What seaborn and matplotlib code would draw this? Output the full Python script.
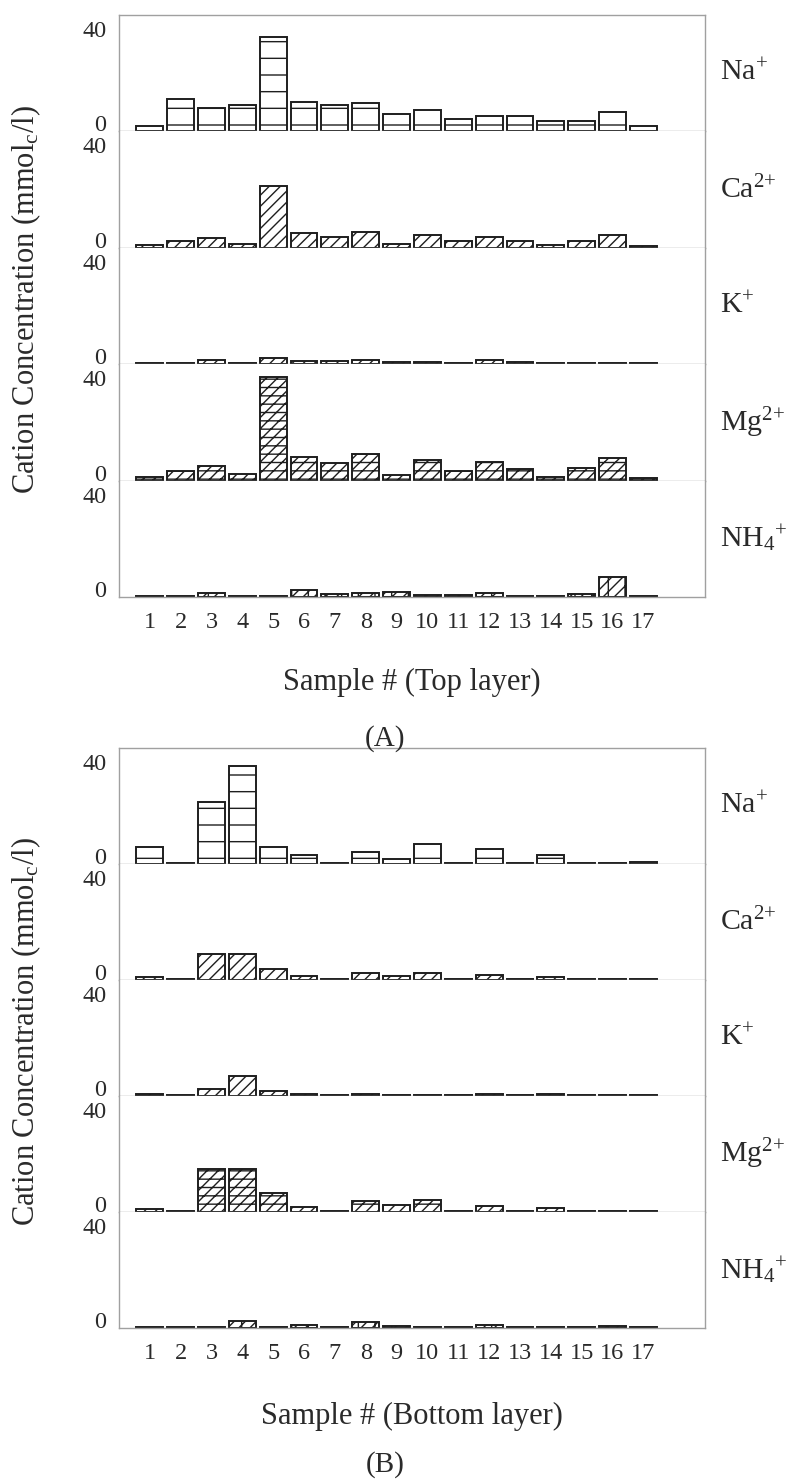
import numpy as np
import pandas as pd
import matplotlib
matplotlib.use("Agg")
import matplotlib.pyplot as plt
import seaborn as sns

# ---------------- data ----------------
samples = [str(i) for i in range(1, 18)]
ion_names = ["Na", "Ca", "K", "Mg", "NH4"]
ion_labels = [r"Na$^{+}$", r"Ca$^{2{+}}$", r"K$^{+}$", r"Mg$^{2{+}}$", r"NH$_{4}{}^{+}$"]
ion_hatches = ["-", "///", "///", "///--", "///|"]

# Top layer (A)
top_na  = [2.0, 12.8, 9.2, 10.5, 37.0, 11.4, 10.2, 11.1, 6.8, 8.3, 4.7, 6.2, 6.2, 3.9, 3.9, 7.5, 2.2]
top_ca  = [0.9, 2.5, 3.7, 1.6, 24.0, 5.7, 4.2, 6.1, 1.3, 4.9, 2.5, 4.3, 2.5, 0.9, 2.5, 4.9, 0.6]
top_k   = [0.5, 0.5, 1.5, 0.4, 2.5, 1.3, 1.3, 1.5, 0.9, 0.9, 0.4, 1.5, 0.9, 0.4, 0.6, 0.6, 0.3]
top_mg  = [1.3, 3.7, 5.7, 2.6, 40.4, 9.3, 7.0, 10.3, 2.0, 7.9, 3.9, 7.2, 4.6, 1.4, 5.0, 8.7, 1.0]
top_nh4 = [0.2, 0.2, 1.5, 0.2, 0.2, 2.6, 1.3, 1.5, 1.9, 0.9, 0.6, 1.7, 0.2, 0.2, 1.0, 7.7, 0.2]

# Bottom layer (B)
bot_na  = [6.5, 0.3, 24.3, 38.3, 6.5, 3.5, 0.3, 4.7, 1.9, 7.7, 0.3, 5.8, 0.3, 3.5, 0.3, 0.4, 0.9]
bot_ca  = [1.1, 0.3, 10.1, 10.1, 4.4, 1.5, 0.3, 2.8, 1.6, 2.8, 0.3, 1.8, 0.4, 1.1, 0.3, 0.3, 0.4]
bot_k   = [0.8, 0.3, 2.8, 7.7, 1.8, 0.8, 0.2, 0.8, 0.5, 0.5, 0.3, 0.9, 0.3, 0.9, 0.3, 0.3, 0.3]
bot_mg  = [1.3, 0.3, 16.8, 16.8, 7.5, 1.9, 0.3, 4.5, 2.6, 4.7, 0.3, 2.5, 0.3, 1.5, 0.3, 0.3, 0.3]
bot_nh4 = [0.2, 0.2, 0.2, 2.8, 0.2, 1.3, 0.2, 2.3, 0.6, 0.2, 0.2, 1.3, 0.3, 0.3, 0.3, 0.6, 0.3]

top_layer = [top_na, top_ca, top_k, top_mg, top_nh4]
bot_layer = [bot_na, bot_ca, bot_k, bot_mg, bot_nh4]

y_ticks = [0, 40]
x_labels = ["Sample # (Top layer)", "Sample # (Bottom layer)"]
panel_tags = ["(A)", "(B)"]
y_label = r"Cation Concentration (mmol$_{\mathrm{c}}$/l)"

# ---------------- style ----------------
sns.set_theme(style="white")
plt.rcParams["font.family"] = ["Liberation Serif", "DejaVu Serif"]
plt.rcParams["mathtext.fontset"] = "custom"
plt.rcParams["mathtext.rm"] = "Liberation Serif"
plt.rcParams["mathtext.it"] = "Liberation Serif:italic"
plt.rcParams["mathtext.bf"] = "Liberation Serif:bold"
plt.rcParams["hatch.linewidth"] = 1.0
plt.rcParams["hatch.color"] = "#1e1e1e"

W, H = 790, 1482
fig = plt.figure(figsize=(W / 100, H / 100), dpi=100)

spine_col = "#a0a0a0"
text_col = "#2a2a2a"
left_px, right_px = 119, 705
panels = [(15, 597), (748, 1328)]
xlabel_y = [682, 1416]
tag_y = [739, 1465]

for pi, (layer, (ptop, pbot)) in enumerate(zip([top_layer, bot_layer], panels)):
    gs = fig.add_gridspec(5, 1, left=left_px / W, right=right_px / W,
                          top=1 - ptop / H, bottom=1 - pbot / H, hspace=0)
    for ii in range(5):
        ax = fig.add_subplot(gs[ii, 0])
        df = pd.DataFrame({"sample": samples, "value": layer[ii]})
        sns.barplot(data=df, x="sample", y="value", order=samples, ax=ax,
                    color="white", edgecolor="#1e1e1e", linewidth=1.4,
                    width=0.87, errorbar=None, saturation=1)
        for p in ax.patches:
            p.set_hatch(ion_hatches[ii])
            p.set_facecolor("white")
        ax.set_xlim(-1, 18)
        ax.set_ylim(0, 45.5)
        ax.set_yticks(y_ticks)
        ax.set_ylabel("")
        ax.set_xlabel("")
        for s in ["left", "right", "bottom", "top"]:
            ax.spines[s].set_color(spine_col)
            ax.spines[s].set_linewidth(1.0)
        ax.spines["top"].set_visible(ii == 0)
        ax.tick_params(axis="y", direction="in", length=4, width=0.8,
                       color=spine_col, labelsize=17.5, labelcolor=text_col, pad=9)
        # the "0" label sits just above the zero line
        ax.yaxis.get_major_ticks()[0].label1.set_verticalalignment("baseline")
        if ii == 4:
            ax.tick_params(axis="x", direction="in", length=5, width=0.8,
                           color=spine_col, labelsize=17.5, labelcolor=text_col, pad=11)
        else:
            ax.tick_params(axis="x", bottom=False, labelbottom=False)
        ax.text(1.025, 0.5, ion_labels[ii], transform=ax.transAxes,
                fontsize=21.5, color=text_col, va="center", ha="left")
        ax.set_facecolor("white")
    fig.text(412 / W, 1 - xlabel_y[pi] / H, x_labels[pi], fontsize=22,
             color=text_col, ha="center", va="center")
    fig.text(385 / W, 1 - tag_y[pi] / H, panel_tags[pi], fontsize=21,
             color=text_col, ha="center", va="center")
    fig.text(26 / W, 1 - ((ptop + pbot) / 2 - 6) / H, y_label, fontsize=22,
             color=text_col, ha="center", va="center", rotation=90)

fig.savefig("out.png", dpi=100, facecolor="white")
